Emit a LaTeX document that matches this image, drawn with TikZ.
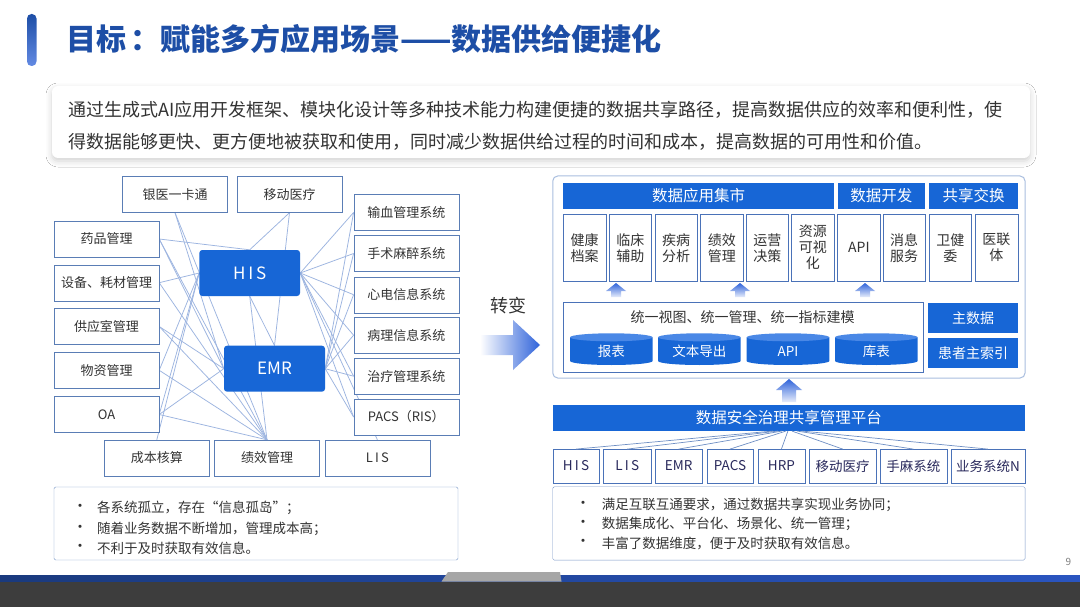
\documentclass[tikz,border=0pt]{standalone}
\usepackage{fontspec}
\setmainfont{Noto Sans CJK SC}
\usetikzlibrary{backgrounds,shadows.blur}
\definecolor{mainblue}{HTML}{1766D6}
\definecolor{titleblue}{HTML}{1D4EA6}
\definecolor{boxline}{HTML}{5A7DB5}
\definecolor{subline}{HTML}{4A72B8}
\definecolor{noteline}{HTML}{7A98C8}
\definecolor{meshline}{HTML}{9CB4E0}
\definecolor{fanline}{HTML}{6F8FC4}
\definecolor{frameline}{HTML}{A9BEDF}
\definecolor{txtgray}{HTML}{333333}
\definecolor{arrowblue}{HTML}{2F63DA}
\definecolor{cyltop}{HTML}{4A88E6}
\definecolor{footnavy}{HTML}{1A3A7E}
\definecolor{footblue}{HTML}{2A55C0}
\definecolor{footgray}{HTML}{3D3D3D}

\begin{document}
\begin{tikzpicture}[x=1pt, y=-1pt,
	outbox/.style={draw=boxline, fill=white, minimum width=105, minimum height=36, inner sep=0, text=txtgray, font=\fontsize{13}{15}\selectfont},
	bluebox/.style={fill=mainblue, rounded corners=3, text=white, inner sep=0, font=\fontsize{17}{17}\selectfont},
	headbox/.style={fill=mainblue, text=white, inner sep=0, minimum height=26.6, font=\fontsize{15.5}{16}\selectfont},
	subbox/.style={draw=subline, fill=white, minimum width=42.7, minimum height=66.7, inner sep=0, align=center, text=txtgray, font=\fontsize{14}{16}\selectfont},
	sysbox/.style={draw=subline, fill=white, minimum height=33.4, inner sep=0, text=txtgray!80!blue, font=\fontsize{13.5}{15}\selectfont},
	notebox/.style={draw=noteline, fill=white, rounded corners=1.5, inner sep=0},
	dot/.style={inner sep=0, text=txtgray, font=\fontsize{15}{15}\selectfont},
	notetxt/.style={anchor=west, inner sep=0, text=txtgray, font=\fontsize{13.5}{15}\selectfont},
	mesh/.style={draw=meshline, line width=0.75},
	fan/.style={draw=fanline, line width=0.7}
	]
	\useasboundingbox (0,0) rectangle (1080,607);
	\shade[top color=titleblue, bottom color=arrowblue!75, rounded corners=4.5] (27,14) rectangle (36.5,66);
	\node[anchor=west, inner sep=0, text=titleblue, font=\fontsize{30}{30}\selectfont\bfseries] (TITLE)at(66, 39) {目标\hspace{4pt}：赋能多方应用场景——数据供给便捷化};
	\node[fill=white, rounded corners=6, minimum width=978, minimum height=72, blur shadow={shadow xshift=0pt, shadow yshift=-3pt, shadow blur radius=6pt, shadow opacity=18}] (INTRO)at(541, 122) {};
	\node[anchor=west, align=left, inner sep=0, text=txtgray, font=\fontsize{18}{32}\selectfont] (INTROT)at(68, 126) {通过生成式AI应用开发框架、模块化设计等多种技术能力构建便捷的数据共享路径，提高数据供应的效率和便利性，使\\得数据能够更快、更方便地被获取和使用，同时减少数据供给过程的时间和成本，提高数据的可用性和价值。};

	\node[outbox] (YYKT)at(175, 194.5) {银医一卡通};
	\node[outbox] (YDYL)at(289.5, 194.5) {移动医疗};
	\node[outbox] (YPGL)at(106.5, 239) {药品管理};
	\node[outbox] (SBHC)at(106.5, 282.7) {设备、耗材管理};
	\node[outbox] (GYSGL)at(106.5, 326.5) {供应室管理};
	\node[outbox] (WZGL)at(106.5, 370.3) {物资管理};
	\node[outbox] (OA)at(106.5, 414.5) {OA};
	\node[outbox] (SXGL)at(406.3, 212.5) {输血管理系统};
	\node[outbox] (SSMZ)at(406.3, 253.5) {手术麻醉系统};
	\node[outbox] (XDXX)at(406.3, 294.7) {心电信息系统};
	\node[outbox] (BLXX)at(406.3, 335.2) {病理信息系统};
	\node[outbox] (ZLGL)at(406.3, 376.2) {治疗管理系统};
	\node[outbox] (PACS)at(406.3, 417) {PACS（RIS）};
	\node[outbox] (CBHS)at(156.8, 458) {成本核算};
	\node[outbox] (JXGL)at(267, 458) {绩效管理};
	\node[outbox] (LIS)at(377.4, 458) {L\,I\,S};
	\node[bluebox, minimum width=100.7, minimum height=46] (HIS)at(249.7, 273) {H\,I\,S};
	\node[bluebox, minimum width=101, minimum height=46] (EMR)at(274.5, 368.7) {EMR};
	\begin{scope}[on background layer]
		\fill[white] (0,0) rectangle (1080,607);
		\foreach \a/\b in {YYKT.south/EMR.west, YYKT.south/JXGL.north, YDYL.south/HIS.north, YDYL.south/EMR.north,
			YPGL.east/HIS.north, YPGL.east/EMR.west, YPGL.east/JXGL.north, SBHC.east/HIS.west, SBHC.east/JXGL.north,
			GYSGL.east/EMR.west, GYSGL.east/JXGL.north, WZGL.east/HIS.west, WZGL.east/JXGL.north,
			OA.east/HIS.west, OA.east/EMR.west, OA.east/JXGL.north, CBHS.north/HIS.west,
			HIS.south/EMR.north, HIS.south/JXGL.north, HIS.east/LIS.north}
			\draw[mesh] (\a) -- (\b);
		\foreach \s in {SXGL, SSMZ, XDXX, BLXX, ZLGL, PACS}
			{\draw[mesh] (HIS.east) -- (\s.west);
			\draw[mesh] (EMR.east) -- (\s.west);}
	\end{scope}
	\node[notebox, minimum width=404, minimum height=73] (LNOTE)at(256, 523.5) {};
	\foreach \y/\t [count=\i] in {508/{各系统孤立，存在“信息孤岛”；}, 528.5/{随着业务数据不断增加，管理成本高；}, 548/{不利于及时获取有效信息。}}
		{\node[dot] (LD\i)at(80, \y) {•};
		\node[notetxt] (LT\i)at(97, \y) {\t};}

	\node[inner sep=0, text=txtgray, font=\fontsize{18}{18}\selectfont] (ZB)at(508, 306) {转变};
	\shade[left color=white, right color=arrowblue] (480,335) -- (513,335) -- (513,320) -- (540,345) -- (513,370) -- (513,355) -- (480,355) -- cycle;

	\node[draw=frameline, line width=1, rounded corners=5, minimum width=472.3, minimum height=202] (RPANEL)at(788.9, 277) {};
	\node[headbox, minimum width=270.7] (SJJS)at(698.7, 196) {数据应用集市};
	\node[headbox, minimum width=87.3] (SJKF)at(881.4, 196) {数据开发};
	\node[headbox, minimum width=88.4] (GXJH)at(973.5, 196) {共享交换};
	\foreach \x/\t [count=\i] in {584.7/健康\\档案, 630.3/临床\\辅助, 676.2/疾病\\分析, 721.9/绩效\\管理, 767.3/运营\\决策, 812.9/资源\\可视\\化, 858.9/API, 904.2/消息\\服务, 950.3/卫健\\委, 996.4/医联\\体}
		\node[subbox] (S\i)at(\x, 247.7) {\t};
	\foreach \x in {616, 740, 865}
		\shade[top color=arrowblue, bottom color=arrowblue!12] (\x-5,297) -- (\x-5,291) -- (\x-10,291) -- (\x,283) -- (\x+10,291) -- (\x+5,291) -- (\x+5,297) -- cycle;
	\node[draw=subline, minimum width=360, minimum height=70, inner sep=0] (TYST)at(742.7, 336.7) {};
	\node[inner sep=0, text=txtgray, font=\fontsize{14}{14}\selectfont] (TYSTT)at(742.7, 316.7) {统一视图、统一管理、统一指标建模};
	\foreach \x/\t [count=\i] in {611.3/报表, 699.3/文本导出, 788/API, 876.3/库表}
		{\fill[mainblue] (\x-41.3,337.3) -- (\x-41.3,361) arc[start angle=180, end angle=0, x radius=41.3, y radius=4] -- (\x+41.3,337.3) -- cycle;
		\fill[cyltop] (\x,337.3) ellipse[x radius=41.3, y radius=4];
		\node[inner sep=0, text=white, font=\fontsize{13.5}{14}\selectfont] (C\i)at(\x, 351.5) {\t};}
	\node[headbox, minimum width=89.4, minimum height=30, font=\fontsize{14}{14}\selectfont] (ZSJ)at(973, 318.3) {主数据};
	\node[headbox, minimum width=89.4, minimum height=30, font=\fontsize{14}{14}\selectfont] (HZSY)at(973, 353.3) {患者主索引};
	\shade[top color=arrowblue, bottom color=arrowblue!12] (782,402) -- (782,390) -- (776,390) -- (789,379) -- (802,390) -- (796,390) -- (796,402) -- cycle;

	\node[headbox, minimum width=472.3, minimum height=25.7] (PT)at(788.9, 418) {数据安全治理共享管理平台};
	\foreach \x/\w/\t/\n in {576/46.6/H\,I\,S/SHIS, 627.2/47.7/L\,I\,S/SLIS, 678.7/47.3/EMR/SEMR, 730/46.6/PACS/SPACS, 781.4/47.3/HRP/SHRP, 842.7/66.7/移动医疗/SYDYL, 913.4/66.7/手麻系统/SSMXT, 987.9/74.3/业务系统N/SYWXT}
		\node[sysbox, minimum width=\w] (\n)at(\x, 466) {\t};
	\foreach \n/\s in {SHIS/-16, SLIS/-11, SEMR/-7, SPACS/-3, SHRP/-1, SYDYL/3, SSMXT/8, SYWXT/13}
		\draw[fan] ([xshift=\s]PT.south) -- (\n.north);
	\node[notebox, minimum width=472.3, minimum height=73.3] (RNOTE)at(788.9, 523.4) {};
	\foreach \y/\t [count=\i] in {505/{满足互联互通要求，通过数据共享实现业务协同；}, 524.3/{数据集成化、平台化、场景化、统一管理；}, 543.3/{丰富了数据维度，便于及时获取有效信息。}}
		{\node[dot] (RD\i)at(583, \y) {•};
		\node[notetxt] (RT\i)at(601.7, \y) {\t};}

	\shade[left color=footnavy, right color=footblue] (0,575.5) rectangle (1080,581.5);
	\fill[footgray] (0,581.5) rectangle (1080,607);
	\fill[gray!70] (441.5,581.5) -- (448,572) -- (560,572) -- (561.5,581.5) -- cycle;
	\node[inner sep=0, text=gray, font=\fontsize{10}{10}\selectfont] (PGNO)at(1068.5, 561.5) {9};
\end{tikzpicture}
\end{document}
